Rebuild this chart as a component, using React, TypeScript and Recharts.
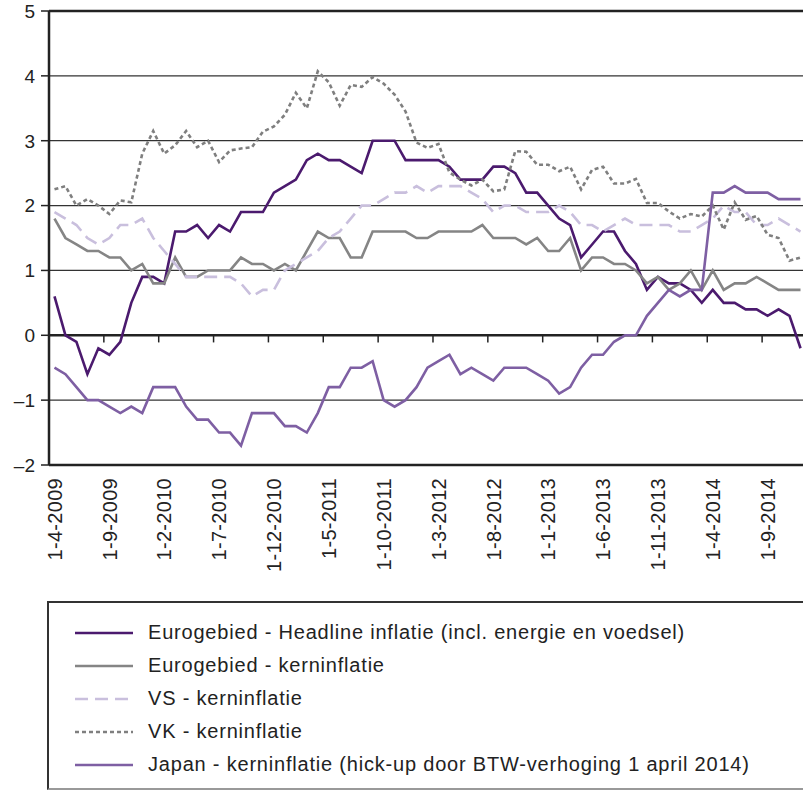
import React from 'react';
import { LineChart, Line, XAxis, YAxis, CartesianGrid, ReferenceLine, Legend } from 'recharts';

const months = [
  '1-4-2009', '1-5-2009', '1-6-2009', '1-7-2009', '1-8-2009', '1-9-2009', '1-10-2009', '1-11-2009', '1-12-2009',
  '1-1-2010', '1-2-2010', '1-3-2010', '1-4-2010', '1-5-2010', '1-6-2010', '1-7-2010', '1-8-2010', '1-9-2010', '1-10-2010', '1-11-2010', '1-12-2010',
  '1-1-2011', '1-2-2011', '1-3-2011', '1-4-2011', '1-5-2011', '1-6-2011', '1-7-2011', '1-8-2011', '1-9-2011', '1-10-2011', '1-11-2011', '1-12-2011',
  '1-1-2012', '1-2-2012', '1-3-2012', '1-4-2012', '1-5-2012', '1-6-2012', '1-7-2012', '1-8-2012', '1-9-2012', '1-10-2012', '1-11-2012', '1-12-2012',
  '1-1-2013', '1-2-2013', '1-3-2013', '1-4-2013', '1-5-2013', '1-6-2013', '1-7-2013', '1-8-2013', '1-9-2013', '1-10-2013', '1-11-2013', '1-12-2013',
  '1-1-2014', '1-2-2014', '1-3-2014', '1-4-2014', '1-5-2014', '1-6-2014', '1-7-2014', '1-8-2014', '1-9-2014', '1-10-2014', '1-11-2014', '1-12-2014',
];

const tickLabels = [
  '1-4-2009', '1-9-2009', '1-2-2010', '1-7-2010', '1-12-2010', '1-5-2011', '1-10-2011',
  '1-3-2012', '1-8-2012', '1-1-2013', '1-6-2013', '1-11-2013', '1-4-2014', '1-9-2014',
];

const yTicks = [-2, -1, 0, 1, 2, 3, 4, 5];

const headline = [
  0.6, 0.0, -0.1, -0.6, -0.2, -0.3, -0.1, 0.5, 0.9, 0.9,
  0.8, 1.6, 1.6, 1.7, 1.5, 1.7, 1.6, 1.9, 1.9, 1.9,
  2.2, 2.3, 2.4, 2.7, 2.8, 2.7, 2.7, 2.6, 2.5, 3.0,
  3.0, 3.0, 2.7, 2.7, 2.7, 2.7, 2.6, 2.4, 2.4, 2.4,
  2.6, 2.6, 2.5, 2.2, 2.2, 2.0, 1.8, 1.7, 1.2, 1.4,
  1.6, 1.6, 1.3, 1.1, 0.7, 0.9, 0.8, 0.8, 0.7, 0.5,
  0.7, 0.5, 0.5, 0.4, 0.4, 0.3, 0.4, 0.3, -0.2,
];

const ezCore = [
  1.8, 1.5, 1.4, 1.3, 1.3, 1.2, 1.2, 1.0, 1.1, 0.8,
  0.8, 1.2, 0.9, 0.9, 1.0, 1.0, 1.0, 1.2, 1.1, 1.1,
  1.0, 1.1, 1.0, 1.3, 1.6, 1.5, 1.5, 1.2, 1.2, 1.6,
  1.6, 1.6, 1.6, 1.5, 1.5, 1.6, 1.6, 1.6, 1.6, 1.7,
  1.5, 1.5, 1.5, 1.4, 1.5, 1.3, 1.3, 1.5, 1.0, 1.2,
  1.2, 1.1, 1.1, 1.0, 0.8, 0.9, 0.7, 0.8, 1.0, 0.7,
  1.0, 0.7, 0.8, 0.8, 0.9, 0.8, 0.7, 0.7, 0.7,
];

const usCore = [
  1.9, 1.8, 1.7, 1.5, 1.4, 1.5, 1.7, 1.7, 1.8, 1.5,
  1.3, 1.1, 0.9, 0.9, 0.9, 0.9, 0.9, 0.8, 0.6, 0.7,
  0.7, 1.0, 1.1, 1.2, 1.3, 1.5, 1.6, 1.8, 2.0, 2.0,
  2.1, 2.2, 2.2, 2.3, 2.2, 2.3, 2.3, 2.3, 2.2, 2.1,
  1.9, 2.0, 2.0, 1.9, 1.9, 1.9, 2.0, 1.9, 1.7, 1.7,
  1.6, 1.7, 1.8, 1.7, 1.7, 1.7, 1.7, 1.6, 1.6, 1.7,
  1.8, 2.0, 1.9, 1.9, 1.7, 1.7, 1.8, 1.7, 1.6,
];

const ukCore = [
  2.25, 2.3, 2.0, 2.1, 2.0, 1.87, 2.08, 2.05, 2.8, 3.15,
  2.8, 2.93, 3.15, 2.9, 3.0, 2.67, 2.85, 2.88, 2.9, 3.14,
  3.22, 3.4, 3.74, 3.5, 4.07, 3.9, 3.54, 3.86, 3.83, 3.98,
  3.88, 3.71, 3.45, 2.97, 2.89, 2.95, 2.51, 2.4, 2.31, 2.4,
  2.22, 2.25, 2.84, 2.83, 2.63, 2.63, 2.53, 2.6, 2.25, 2.55,
  2.6, 2.34, 2.34, 2.41, 2.04, 2.04, 1.91, 1.8, 1.87, 1.83,
  2.0, 1.63, 2.05, 1.78, 1.84, 1.55, 1.5, 1.15, 1.2,
];

const japan = [
  -0.5, -0.6, -0.8, -1.0, -1.0, -1.1, -1.2, -1.1, -1.2, -0.8,
  -0.8, -0.8, -1.1, -1.3, -1.3, -1.5, -1.5, -1.7, -1.2, -1.2,
  -1.2, -1.4, -1.4, -1.5, -1.2, -0.8, -0.8, -0.5, -0.5, -0.4,
  -1.0, -1.1, -1.0, -0.8, -0.5, -0.4, -0.3, -0.6, -0.5, -0.6,
  -0.7, -0.5, -0.5, -0.5, -0.6, -0.7, -0.9, -0.8, -0.5, -0.3,
  -0.3, -0.1, 0.0, 0.0, 0.3, 0.5, 0.7, 0.6, 0.7, 0.7,
  2.2, 2.2, 2.3, 2.2, 2.2, 2.2, 2.1, 2.1, 2.1,
];

const seriesNames = [
  'Eurogebied - Headline inflatie (incl. energie en voedsel)',
  'Eurogebied - kerninflatie',
  'VS - kerninflatie',
  'VK - kerninflatie',
  'Japan - kerninflatie (hick-up door BTW-verhoging 1 april 2014)',
];

const series = [
  { key: 'headline', name: seriesNames[0], color: '#4B1A6E', dash: undefined as string | undefined, width: 2.6 },
  { key: 'ezCore', name: seriesNames[1], color: '#858585', dash: undefined as string | undefined, width: 2.6 },
  { key: 'usCore', name: seriesNames[2], color: '#C9BFDD', dash: '13 7', width: 2.6 },
  { key: 'ukCore', name: seriesNames[3], color: '#7F7F7F', dash: '4 3', width: 2.6 },
  { key: 'japan', name: seriesNames[4], color: '#7E5FA3', dash: undefined as string | undefined, width: 2.6 },
];

const data = months.map((m, i) => ({
  idx: i,
  month: m,
  headline: headline[i],
  ezCore: ezCore[i],
  usCore: usCore[i],
  ukCore: ukCore[i],
  japan: japan[i],
}));

const tickIdx = tickLabels.map((l) => months.indexOf(l));
const tickMarkPos = tickIdx.slice(1).map((i) => i - 0.5);

const FONT = '"Liberation Sans", Arial, Helvetica, sans-serif';
const INK = '#222';

const XTick = (props: any) => {
  const { x, y, payload } = props;
  return (
    <text
      x={x}
      y={y}
      transform={`rotate(-90 ${x} ${y})`}
      textAnchor="end"
      dy="0.36em"
      fontSize={20}
      letterSpacing={0.3}
      fontFamily={FONT}
      fill={INK}
    >
      {months[payload.value]}
    </text>
  );
};

const fmtY = (v: number) => (v < 0 ? '\u2013' + Math.abs(v) : String(v));

const YTick = (props: any) => {
  const { x, y, payload } = props;
  return (
    <text x={x} y={y} textAnchor="end" dy="0.36em" fontSize={19} fontFamily={FONT} fill={INK}>
      {fmtY(payload.value)}
    </text>
  );
};

const renderLegend = () => (
  <div
    style={{
      boxSizing: 'border-box',
      width: '100%',
      height: '100%',
      border: '2px solid #333',
      borderBottomColor: '#999',
      background: '#fff',
      paddingTop: 13,
      fontFamily: FONT,
      fontSize: 20,
      letterSpacing: 0.8,
      color: INK,
    }}
  >
    {series.map((s) => (
      <div key={s.key} style={{ display: 'flex', alignItems: 'center', height: 33 }}>
        <svg width={58} height={6} style={{ marginLeft: 26, marginRight: 15, flex: 'none' }}>
          <line x1={0} y1={3} x2={58} y2={3} stroke={s.color} strokeWidth={2.6} strokeDasharray={s.dash} />
        </svg>
        <span style={{ whiteSpace: 'nowrap' }}>{s.name}</span>
      </div>
    ))}
  </div>
);

export default function App() {
  return (
    <div style={{ position: 'absolute', left: 0, top: 0, width: 803, height: 792, overflow: 'hidden', background: '#fff' }}>
      <LineChart
        width={820}
        height={792}
        data={data}
        margin={{ top: 11, right: 14, bottom: 207, left: 0 }}
      >
        <CartesianGrid vertical={false} stroke="#333" strokeWidth={1.3} />
        <XAxis
          type="number"
          dataKey="idx"
          domain={[-0.5, months.length - 0.5]}
          ticks={tickIdx}
          interval={0}
          tick={<XTick />}
          tickLine={false}
          tickSize={0}
          tickMargin={13}
          axisLine={{ stroke: INK, strokeWidth: 2.5 }}
          height={120}
        />
        <YAxis
          type="number"
          domain={[-2, 5]}
          ticks={yTicks}
          interval={0}
          width={49}
          tickSize={8}
          tickMargin={6}
          tick={<YTick />}
          tickLine={{ stroke: INK, strokeWidth: 1.5 }}
          axisLine={{ stroke: INK, strokeWidth: 2.5 }}
        />
        <ReferenceLine y={5} stroke={INK} strokeWidth={2.5} />
        <ReferenceLine y={0} stroke={INK} strokeWidth={2.5} />
        {tickMarkPos.map((p) => (
          <ReferenceLine
            key={p}
            segment={[{ x: p, y: 0 }, { x: p, y: -0.11 }]}
            stroke={INK}
            strokeWidth={1.5}
          />
        ))}
        {series.map((s) => (
          <Line
            key={s.key}
            type="linear"
            dataKey={s.key}
            name={s.name}
            stroke={s.color}
            strokeWidth={s.width}
            strokeDasharray={s.dash}
            dot={false}
            activeDot={false}
            isAnimationActive={false}
          />
        ))}
        <Legend
          layout="vertical"
          verticalAlign="middle"
          align="center"
          wrapperStyle={{ left: 47, top: 601, width: 770, height: 189 }}
          content={renderLegend}
        />
      </LineChart>
    </div>
  );
}
